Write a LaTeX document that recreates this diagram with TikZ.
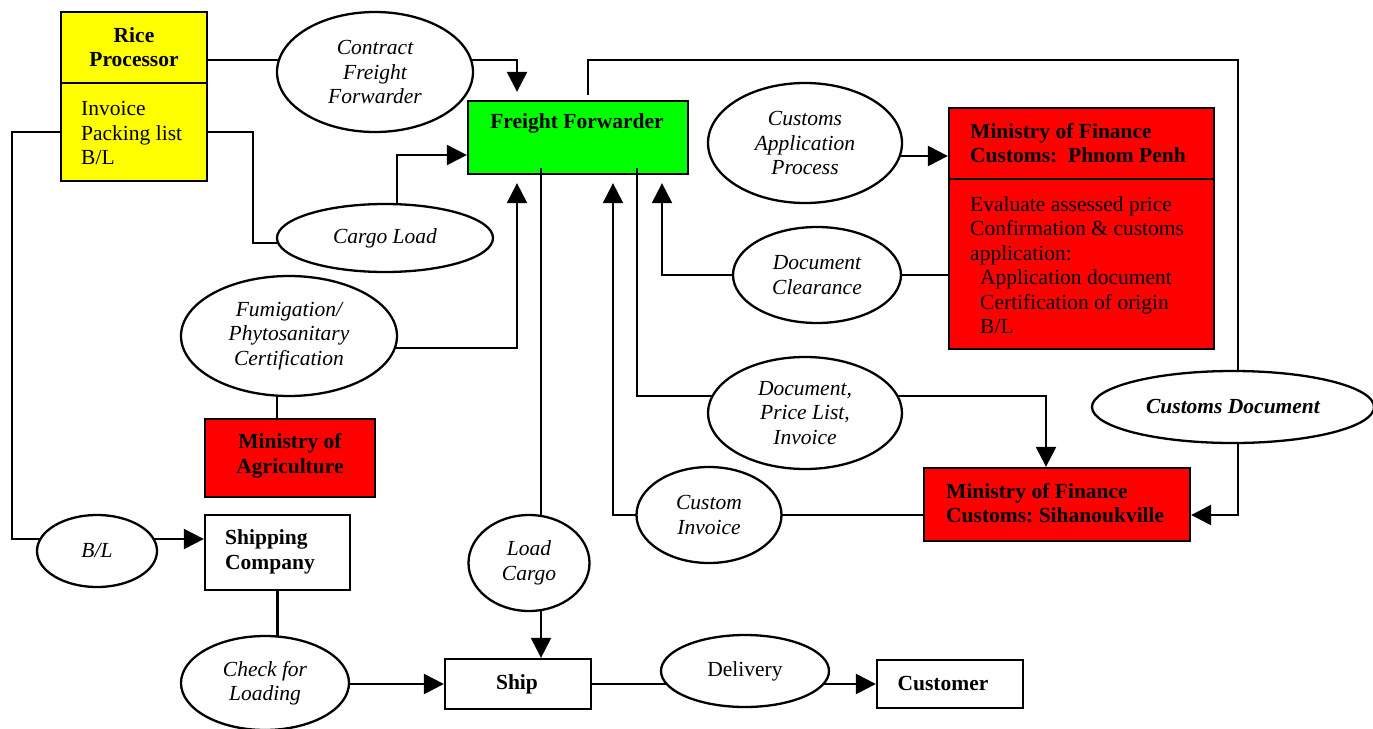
\documentclass[tikz,border=0pt]{standalone}
\usepackage{fontspec}
\setmainfont{Liberation Serif}
\usetikzlibrary{arrows.meta,fit,shapes.geometric}
\pgfdeclarelayer{wires}
\pgfsetlayers{wires,main}
\newcommand{\dsz}{\fontsize{21.5}{24.5}\selectfont}
\tikzset{
  box/.style={draw=black, line width=2.3pt, inner sep=0pt},
  oval/.style={draw=black, line width=2.3pt, ellipse, fill=white, inner sep=0pt,
               align=center, font=\dsz\itshape},
  txt/.style={inner sep=0pt, align=left, anchor=west, font=\dsz},
  btxt/.style={inner sep=0pt, align=center, font=\dsz\bfseries},
  wire/.style={line width=2.3pt},
  arr/.style={wire, -{Triangle[length=20pt,width=20pt]}},
}
\definecolor{riceyellow}{HTML}{FFFF00}
\definecolor{fwdgreen}{HTML}{00FF00}
\definecolor{govred}{HTML}{FF0000}
\begin{document}
\begin{tikzpicture}[x=1pt,y=-1pt]
\useasboundingbox (0,0) rectangle (1373,728);

% ---------- boxes ----------
\node[box, fill=riceyellow, fit={(61,12) (207,181)}] (rp) {};
\coordinate (rpdiv) at (0,83);
\draw[wire] (rp.west |- rpdiv) -- (rp.east |- rpdiv);
\node[btxt] (rpt) at (134,47) {Rice\\Processor};
\node[txt] (rpb) at (81,133) {Invoice\\Packing list\\B/L};

\node[box, fill=fwdgreen, fit={(468,101) (688,174)}] (ff) {};
\node[btxt] (fft) at (577,123) {Freight Forwarder};

\node[box, fill=govred, fit={(949,108) (1214,349)}] (pp) {};
\coordinate (ppdiv) at (0,179);
\draw[wire] (pp.west |- ppdiv) -- (pp.east |- ppdiv);
\node[txt, font=\dsz\bfseries] (ppt) at (970,143) {Ministry of Finance\\Customs:\ \ Phnom Penh};
\node[txt] (ppb) at (970,265) {Evaluate assessed price\\Confirmation \& customs\\application:\\
  \hspace*{10pt}Application document\\\hspace*{10pt}Certification of origin\\\hspace*{10pt}B/L};

\node[box, fill=govred, fit={(205,419) (375,497)}] (moa) {};
\node[btxt] (moat) at (290,456) {Ministry of\\Agriculture};

\node[box, fill=govred, fit={(924,468) (1190,541)}] (sv) {};
\node[txt, font=\dsz\bfseries] (svt) at (946,503) {Ministry of Finance\\Customs:\ Sihanoukville};

\node[box, fill=white, fit={(205,515) (350,590)}] (sc) {};
\node[txt, font=\dsz\bfseries] (sct) at (225,552) {Shipping\\Company};

\node[box, fill=white, fit={(445,659) (591,709)}] (ship) {};
\node[btxt] (shipt) at (517,684) {Ship};
\node[box, fill=white, fit={(877,660) (1023,708)}] (cust) {};
\node[btxt] (custt) at (943,684) {Customer};

% ---------- ovals ----------
\node[oval, minimum width=196pt, minimum height=120pt] (cff) at (375,72) {Contract\\Freight\\Forwarder};
\node[oval, minimum width=216pt, minimum height=68pt] (cl) at (385,238) {Cargo Load};
\node[oval, minimum width=194pt, minimum height=120pt] (cap) at (805,143) {Customs\\Application\\Process};
\node[oval, minimum width=168pt, minimum height=96pt] (dc) at (817,275) {Document\\Clearance};
\node[oval, minimum width=216pt, minimum height=120pt] (fum) at (289,336) {Fumigation/\\Phytosanitary\\Certification};
\node[oval, minimum width=194pt, minimum height=112pt] (dpl) at (805,413) {Document,\\Price List,\\Invoice};
\node[oval, minimum width=282pt, minimum height=72pt, font=\dsz\bfseries\itshape] (cd) at (1233,407) {Customs Document};
\node[oval, minimum width=145pt, minimum height=96pt] (ci) at (709,515) {Custom\\Invoice};
\node[oval, minimum width=120pt, minimum height=72pt] (bl) at (97,551) {B/L};
\node[oval, minimum width=121pt, minimum height=96pt] (lc) at (529,563) {Load\\Cargo};
\node[oval, minimum width=168pt, minimum height=94pt] (cfl) at (265,683) {Check for\\Loading};
\node[oval, minimum width=168pt, minimum height=72pt, font=\dsz] (dl) at (745,671) {Delivery};

% ---------- bend points ----------
\coordinate (b1) at (517,60);
\coordinate (b2) at (253,132);
\coordinate (b3) at (253,243);
\coordinate (b4) at (397,155);
\coordinate (b5) at (12,132);
\coordinate (b6) at (12,539);
\coordinate (b8) at (517,348);
\coordinate (k277) at (277,0);
\coordinate (k541) at (541,0);
\coordinate (k637) at (637,0);
\coordinate (b9) at (637,396);
\coordinate (b10) at (1046,396);
\coordinate (b11) at (588,60);
\coordinate (b12) at (1238,60);
\coordinate (b13) at (1238,515);
\coordinate (b14) at (900,156);
\coordinate (b15) at (662,275);
\coordinate (b16) at (613,515);

% ---------- connectors (behind the shapes) ----------
\begin{pgfonlayer}{wires}
  \draw[arr, shorten >=8pt] (rp.east |- b1) -- (b1) -- (b1 |- ff.north);
  \draw[wire] (rp.east |- b2) -- (b2) -- (b3) -- (cl.center |- b3);
  \draw[arr] (b4 |- cl.center) -- (b4) -- (ff.west |- b4);
  \draw[arr] (rp.west |- b2) -- (b5) -- (b6) -- (sc.west |- b6);
  \draw[wire] (sc.south) -- (sc.south |- cfl.center);
  \draw[arr] (cfl.center |- ship) -- (ship.west);
  \draw[arr, shorten >=8pt] (fum.center |- b8) -- (b8) -- (b8 |- ff.south);
  \draw[wire] (k277 |- fum.center) -- (k277 |- moa.north);
  \draw[arr] (k541 |- ff.south) -- (k541 |- ship.north);
  \draw[arr] (k637 |- ff.south) -- (b9) -- (b10) -- (b10 |- sv.north);
  \draw[arr, shorten <=5pt] (b11 |- ff.north) -- (b11) -- (b12) -- (b13) -- (sv.east |- b13);
  \draw[arr] (cap.center |- b14) -- (pp.west |- b14);
  \draw[arr, shorten >=8pt] (pp.west |- b15) -- (b15) -- (b15 |- ff.south);
  \draw[arr, shorten >=8pt] (sv.west |- b16) -- (b16) -- (b16 |- ff.south);
  \draw[arr] (ship.east) -- (cust.west);
\end{pgfonlayer}

% short line ends visible inside the forwarder box
\draw[wire] (k541 |- ff.south) -- ++(0,-7);
\draw[wire] (k637 |- ff.south) -- ++(0,-7);
\end{tikzpicture}
\end{document}
